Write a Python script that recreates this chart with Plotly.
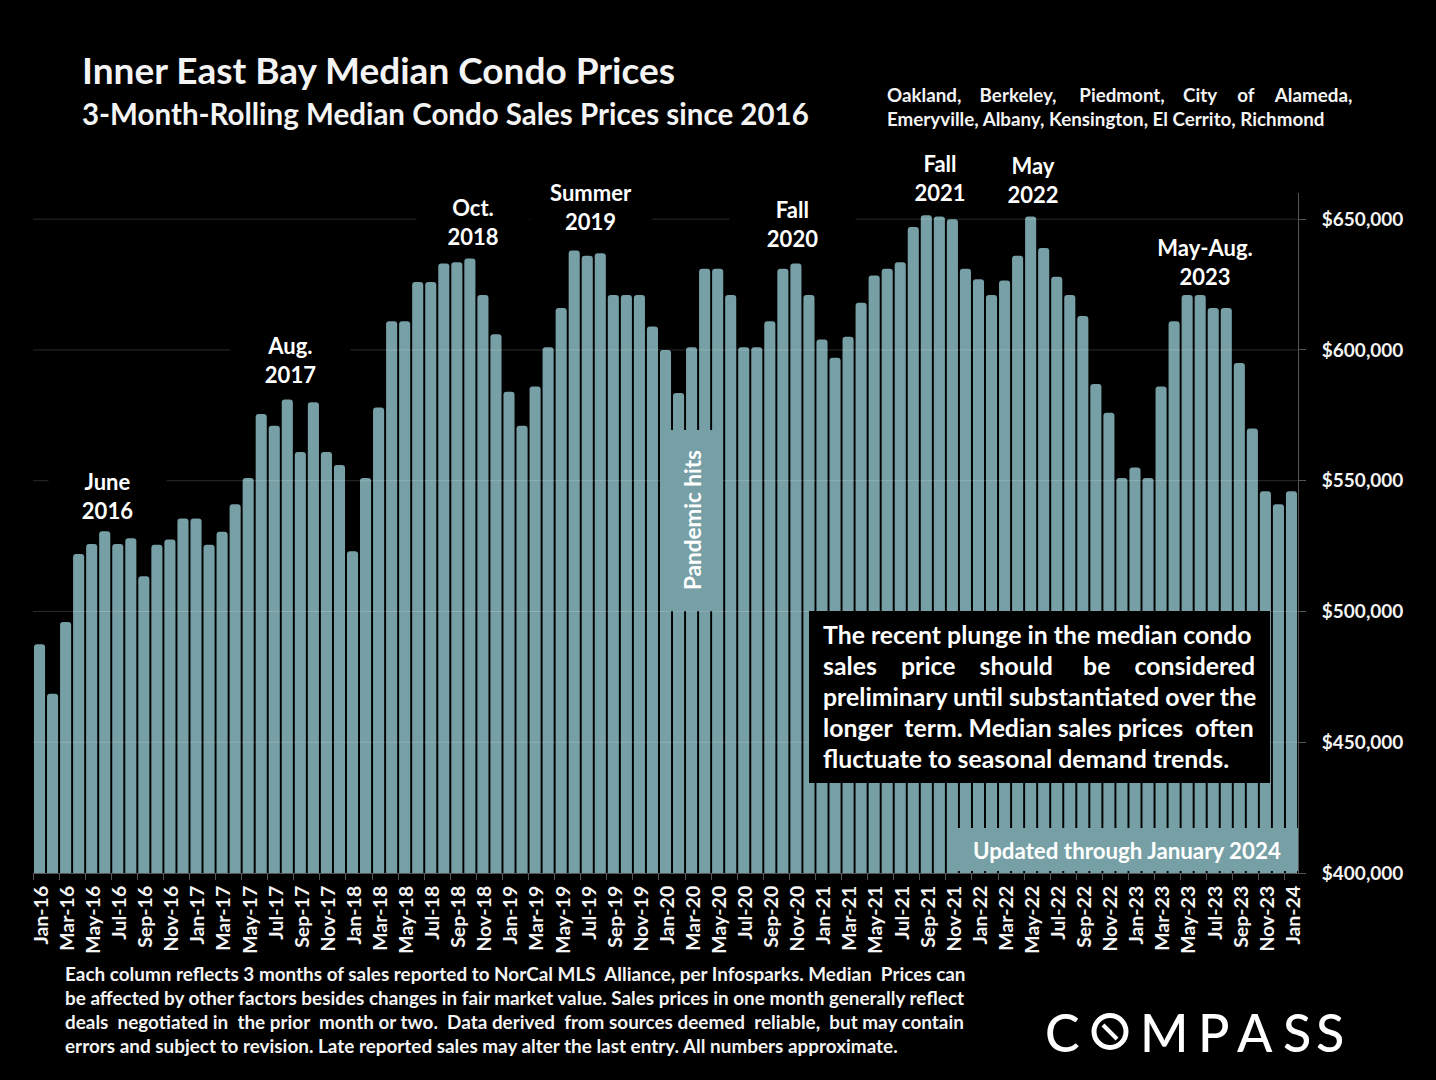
import plotly.graph_objects as go

W, H = 1436, 1080
FONT = "Lato"
BAR = "#76A0A6"
TXT = "#F4F4F4"
NB = "\u00a0"

months = []
for yr in range(16, 25):
    for m in ["Jan", "Feb", "Mar", "Apr", "May", "Jun", "Jul", "Aug", "Sep", "Oct", "Nov", "Dec"]:
        months.append(f"{m}-{yr}")
months = months[:97]

prices = [
    487500, 468500, 496000, 522000, 525800, 530700, 525800, 528000, 513500, 525500, 527500, 535500,
    535500, 525500, 530500, 541000, 551000, 575500, 571000, 581000, 561000, 580000, 561000, 556000,
    523000, 551000, 578000, 611000, 611000, 626000, 626000, 633000, 633500, 635000, 621000, 606000,
    584000, 571000, 586000, 601000, 616000, 638000, 636000, 637000, 621000, 621000, 621000, 609000,
    600000, 583500, 601000, 631000, 631000, 621000, 601000, 601000, 611000, 631000, 633000, 621000,
    604000, 597000, 605000, 618000, 628500, 631000, 633500, 647000, 651500, 651000, 650000, 631000,
    627000, 621000, 626500, 636000, 651000, 639000, 628000, 621000, 613000, 587000, 576000, 551000,
    555000, 551000, 586000, 611000, 621000, 621000, 616000, 616000, 595000, 570000, 546000, 541000,
    546000,
]

y_ticks = [400000, 450000, 500000, 550000, 600000, 650000]
y_labels = ["$400,000", "$450,000", "$500,000", "$550,000", "$600,000", "$650,000"]

# label text, centre x, centre y, width of the black patch (px)
peak_labels = [
    ("June<br>2016", 107, 496, 115),
    ("Aug.<br>2017", 290, 360, 117),
    ("Oct.<br>2018", 473, 222, 110),
    ("Summer<br>2019", 591, 207, 118),
    ("Fall<br>2020", 792, 224, 123),
    ("Fall<br>2021", 940, 178, 70),
    ("May<br>2022", 1033, 180, 70),
    ("May-Aug.<br>2023", 1205, 262, 110),
]

note_lines = [
    "The recent plunge in the median condo",
    f"sales{NB*4}price{NB*4}should{NB*5}be{NB*4}considered",
    "preliminary until substantiated over the",
    f"longer{NB*2}term.{NB}Median{NB}sales{NB}prices{NB*2}often",
    "fluctuate to seasonal demand trends.",
]
foot_lines = [
    f"Each column reflects 3 months of sales reported to NorCal MLS{NB*2}Alliance, per Infosparks. Median{NB*2}Prices can",
    "be affected by other factors besides changes in fair market value. Sales prices in one month generally reflect",
    f"deals{NB*2}negotiated in{NB*2}the prior{NB*2}month or two.{NB*2}Data derived{NB*2}from sources deemed{NB*2}reliable,{NB*2}but may contain",
    "errors and subject to revision. Late reported sales may alter the last entry. All numbers approximate.",
]
area_lines = [
    f"Oakland,{NB*4}Berkeley,{NB*5}Piedmont,{NB*4}City{NB*4}\u200a\u200aof{NB*4}\u200a\u200aAlameda,",
    "Emeryville, Albany, Kensington, El Cerrito, Richmond",
]


def px(x):
    return x / W


def py(y):
    return 1 - y / H


def label(text, x, y, size, xanchor="left", color=TXT, **kw):
    fig.add_annotation(
        text=text, x=px(x), y=py(y), xref="paper", yref="paper", xanchor=xanchor, yanchor="middle",
        showarrow=False, font=dict(family=FONT, size=size, color=color, weight=kw.pop("weight", "bold")), **kw
    )


def box(x0, y0, x1, y1, color):
    fig.add_shape(type="rect", xref="paper", yref="paper", x0=px(x0), x1=px(x1), y0=py(y0), y1=py(y1),
                  fillcolor=color, line_width=0, layer="above")


fig = go.Figure(go.Bar(x=months, y=prices, marker=dict(color=BAR, line_width=0), hoverinfo="x+y"))

fig.update_layout(
    width=W, height=H, autosize=False,
    paper_bgcolor="black", plot_bgcolor="black",
    margin=dict(l=0, r=0, t=0, b=0),
    bargap=0.15, barcornerradius=3,
    showlegend=False,
    font=dict(family=FONT, color=TXT),
)
fig.update_xaxes(
    domain=[px(33), px(1298)], type="category", tickmode="linear", tick0=0, dtick=2, tickangle=-90,
    tickson="boundaries", ticks="outside", ticklen=6, tickcolor="#555555", showgrid=False,
    showline=True, linecolor="#555555", automargin=False, ticklabelstandoff=4, ticklabelshift=2,
    tickfont=dict(family=FONT, size=19.5, color=TXT, weight="bold"),
)
fig.update_yaxes(
    domain=[py(873), py(193)], range=[400000, 660000], side="right", tickmode="array",
    tickvals=y_ticks, ticktext=y_labels, ticks="outside", ticklen=7, tickcolor="#555555", showgrid=False,
    showline=True, linecolor="#555555", automargin=False, zeroline=False, ticklabelstandoff=12,
    tickfont=dict(family=FONT, size=19, color=TXT, weight="bold"),
)

# gridlines sit on top of the columns in the original
for v in y_ticks[1:]:
    fig.add_shape(type="line", xref="paper", yref="y", x0=px(33), x1=px(1298), y0=v, y1=v,
                  line=dict(color="rgba(255,255,255,0.17)", width=1), layer="above")

box(660, 430, 723, 611, BAR)
box(948, 828, 1298, 871, BAR)
box(809, 611, 1270, 783, "black")

label("Inner East Bay Median Condo Prices", 80, 70, 37)
label("3-Month-Rolling Median Condo Sales Prices since 2016", 80, 114, 29.5)
for i, line in enumerate(area_lines):
    label(line, 885, 94.6 + 24 * i, 18.8)

for text, x, y, w in peak_labels:
    label(text, x, y, 22, xanchor="center", bgcolor="black", width=w, color="white")

label("Pandemic hits", 693, 520, 22.5, xanchor="center", textangle=-90, color="white")
label("Updated through January 2024", 971, 850, 22.3, color="white")

for i, line in enumerate(note_lines):
    label(line, 821, 634 + 31 * i, 24.8, color="white")
for i, line in enumerate(foot_lines):
    label(line, 63, 973 + 24 * i, 18.9)

# logo
for ch, x in [("C", 1062), ("M", 1164), ("P", 1213), ("A", 1255), ("S", 1297), ("S", 1330)]:
    label(ch, x, 1032, 52, xanchor="center", color="white", weight=500)
fig.add_shape(type="circle", xref="paper", yref="paper", x0=px(1094), x1=px(1126), y0=py(1047.5), y1=py(1015.5),
              line=dict(color="white", width=5))
fig.add_shape(type="line", xref="paper", yref="paper", x0=px(1103), x1=px(1117), y0=py(1025), y1=py(1039),
              line=dict(color="white", width=4))

fig.write_html("out.html", config={"displayModeBar": False},
               post_script="document.body.style.margin='0';document.body.style.background='black';")
